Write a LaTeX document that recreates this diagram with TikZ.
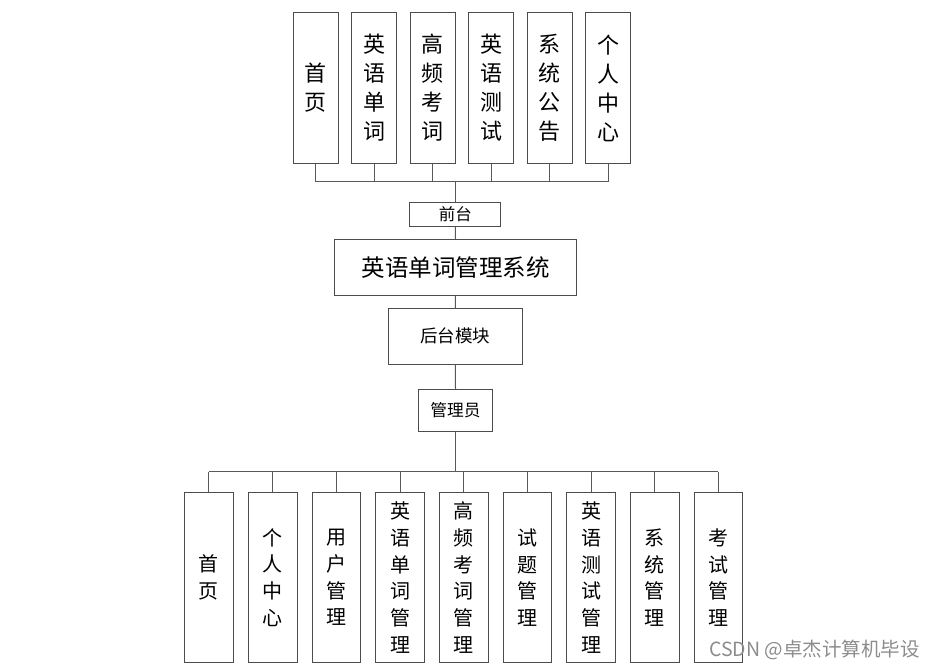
\documentclass[tikz,border=0pt]{standalone}
\usepackage{fontspec}
\newfontfamily\cjk{Noto Sans CJK SC}
\tikzset{
  box/.style={draw=black!70, line width=1pt, fill=white, align=center, inner sep=0pt},
  topcol/.style={box, minimum width=45pt, minimum height=150.6pt, font=\cjk\fontsize{22}{29}\selectfont},
  botcol/.style={box, minimum width=48.8pt, minimum height=169.6pt, font=\cjk\fontsize{20}{26.7}\selectfont},
  link/.style={draw=black!65, line width=1pt}
}
\begin{document}
\begin{tikzpicture}[x=1pt,y=-1pt]
	  \useasboundingbox (0,0) rectangle (936,668);

	  % front end
	  \foreach \i/\x/\t in {1/315.8/{首\\页},2/374.2/{英\\语\\单\\词},3/432.5/{高\\频\\考\\词},4/491/{英\\语\\测\\试},5/549.8/{系\\统\\公\\告},6/608.3/{个\\人\\中\\心}}
	    \node[topcol] (t\i) at (\x,88) {\t};

	  \node[box, minimum width=90.7pt, minimum height=23.7pt, font=\cjk\fontsize{16.5}{20}\selectfont] (qt) at (455.3,214.2) {前台};
	  \node[box, minimum width=242.4pt, minimum height=55.7pt, font=\cjk\fontsize{23.5}{28}\selectfont] (sys) at (455.5,267.2) {英语单词管理系统};
	  \node[box, minimum width=134pt, minimum height=55.7pt, font=\cjk\fontsize{17.5}{21}\selectfont] (ht) at (455.3,336.2) {后台模块};
	  \node[box, minimum width=74.4pt, minimum height=42pt, font=\cjk\fontsize{16.7}{20}\selectfont] (gly) at (455.5,410.3) {管理员};

	  \coordinate (tbus) at (455.3,182);
	  \foreach \i in {1,...,6} \draw[link] (t\i.south) -- (t\i.south |- tbus);
	  \draw[link] (t1.south |- tbus) -- (t6.south |- tbus);
	  \draw[link] (tbus) -- (qt.north);
	  \draw[link] (qt.south) -- (sys.north);
	  \draw[link] (sys.south) -- (ht.north);
	  \draw[link] (ht.south) -- (gly.north);

	  % back end
	  \foreach \i/\x/\t in {1/208.8/{首\\页},2/272.8/{个\\人\\中\\心},3/336.4/{用\\户\\管\\理},4/400/{英\\语\\单\\词\\管\\理},5/463.8/{高\\频\\考\\词\\管\\理},6/527.5/{试\\题\\管\\理},7/591/{英\\语\\测\\试\\管\\理},8/654.7/{系\\统\\管\\理},9/718.4/{考\\试\\管\\理}}
	    \node[botcol] (b\i) at (\x,577.5) {\t};

	  \coordinate (bbus) at (455.5,471.7);
	  \draw[link] (gly.south) -- (bbus);
	  \foreach \i in {1,...,9} \draw[link] (b\i.north) -- (b\i.north |- bbus);
	  \draw[link] (b1.north |- bbus) -- (b9.north |- bbus);

	  \node[anchor=west, text=black!45, inner sep=0pt, font=\cjk\fontsize{19.5}{22}\selectfont] (wm) at (709,650) {CSDN @卓杰计算机毕设};
\end{tikzpicture}
\end{document}
